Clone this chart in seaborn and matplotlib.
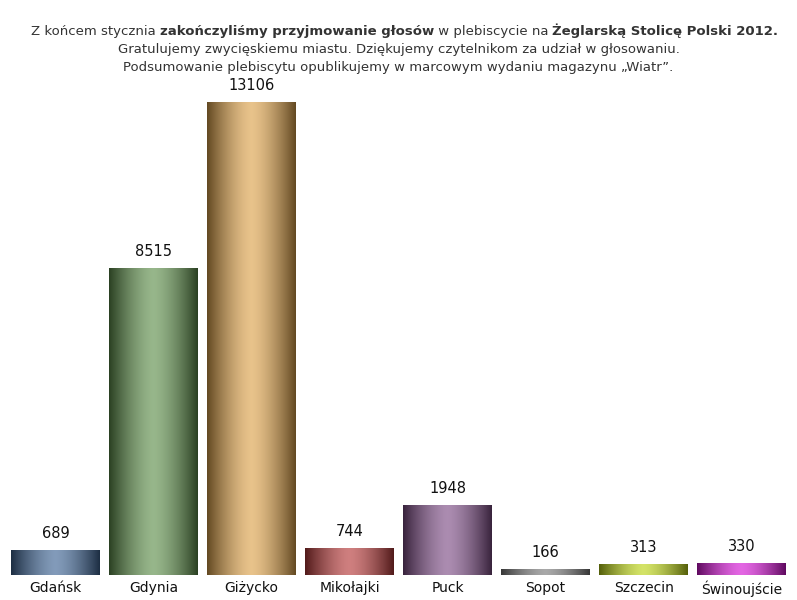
import matplotlib
matplotlib.use("Agg")
import matplotlib.pyplot as plt
import seaborn as sns
import numpy as np
import pandas as pd
from matplotlib.colors import to_rgb

cities = ["Gdańsk", "Gdynia", "Giżycko", "Mikołajki", "Puck", "Sopot", "Szczecin", "Świnoujście"]
votes = [689, 8515, 13106, 744, 1948, 166, 313, 330]
colors = ["#3f6594", "#5f8f4c", "#dca24c", "#b53a3a", "#7e4e86", "#7a7a7a", "#bcd416", "#d414d4"]

sns.set_theme(style="white")
plt.rcParams['font.family'] = ['DejaVu Sans']
fig = plt.figure(figsize=(7.97, 6.0), dpi=100)
ax = fig.add_axes([0.008, 575/600*0 + 25/600, 0.984, 473/600])
df = pd.DataFrame({"city": cities, "votes": votes})
sns.barplot(data=df, x="city", y="votes", hue="city", palette=colors, width=0.9, ax=ax, legend=False)
ax.set_ylim(0, max(votes))
ax.set_xlim(-0.5, len(cities) - 0.5)
for s in ax.spines.values():
    s.set_visible(False)
ax.set_yticks([])
ax.set_xlabel(""); ax.set_ylabel("")
ax.tick_params(axis='x', length=0, pad=4, labelsize=10, colors="#111")

# gradient fill
prof = np.linspace(-1, 1, 200)
shade = 1 - np.abs(prof) ** 1.5
for p, c in zip(ax.patches, colors):
    base = np.array(to_rgb(c))
    dark = base * 0.45
    light = np.clip(base + (1 - base) * 0.35, 0, 1)
    row = dark[None, :] + (light - dark)[None, :] * shade[:, None]
    img = row[None, :, :]
    x0, y0 = p.get_x(), p.get_y()
    w, h = p.get_width(), p.get_height()
    im = ax.imshow(img, extent=[x0, x0 + w, y0, y0 + h], aspect='auto', zorder=p.get_zorder() + 0.1)
    im.set_clip_path(p)
    ax.text(x0 + w / 2, h, f"{int(h)}", ha='center', va='bottom', fontsize=10.5,
            color="#111", clip_on=False, transform=ax.transData).set_y(h + 250)

fig.text(0.5, 0.948, "Z końcem stycznia ", fontsize=1)  # placeholder removed below
fig.texts[-1].remove()

# Title line 1 with bold segments
parts = [("Z końcem stycznia ", "normal"), ("zakończyliśmy przyjmowanie głosów", "bold"),
         (" w plebiscycie na ", "normal"), ("Żeglarską Stolicę Polski 2012.", "bold")]
r = fig.canvas.get_renderer()
tmp = []
for t, wgt in parts:
    tx = fig.text(0, 0.948, t, fontsize=9.5, fontweight=wgt, color="#333", va='center')
    tmp.append(tx)
widths = [tx.get_window_extent(r).width for tx in tmp]
total = sum(widths)
x = (797 - total) / 2 + 6
for tx, w in zip(tmp, widths):
    tx.set_x(x / 797)
    x += w
fig.text(0.5, 0.917, "Gratulujemy zwycięskiemu miastu. Dziękujemy czytelnikom za udział w głosowaniu.",
         ha='center', va='center', fontsize=9.5, color="#333")
fig.text(0.5, 0.887, "Podsumowanie plebiscytu opublikujemy w marcowym wydaniu magazynu „Wiatr”.",
         ha='center', va='center', fontsize=9.5, color="#333")
fig.savefig("out.png", dpi=100)
